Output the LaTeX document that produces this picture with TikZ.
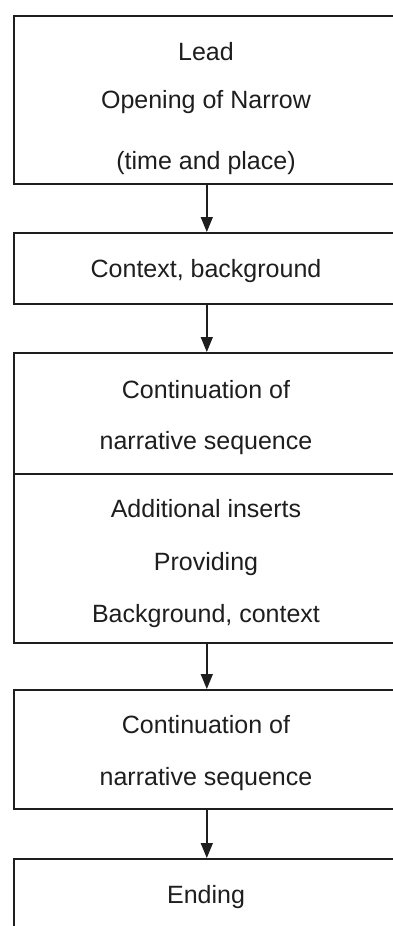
\documentclass[tikz,border=0pt]{standalone}
\usepackage{fontspec}
\setmainfont{Liberation Sans}
\usetikzlibrary{arrows.meta}
\definecolor{ink}{HTML}{1E1E1E}

\tikzset{
    stagebox/.style={draw=ink, line width=1.6pt, minimum width=386pt,
        anchor=north west, inner sep=0pt},
    line/.style={font=\fontsize{25}{30}\selectfont, text=ink, anchor=base, inner sep=0pt},
    flow/.style={draw=ink, line width=1.5pt, -{Triangle[width=12pt,length=15pt]}}
}

\begin{document}
\begin{tikzpicture}[x=1pt, y=-1pt]
        \useasboundingbox[fill=white] (0, 0) rectangle (393, 926);
        \clip (0, 0) rectangle (393, 926);

        % boxes
        \node[stagebox, minimum height=168pt] (lead) at (13, 15) {};
        \node[stagebox, minimum height=71pt] (ctx) at (13, 232) {};
        \node[stagebox, minimum height=121pt] (cont) at (13, 352) {};
        \node[stagebox, minimum height=169pt] (ins) at (13, 473) {};
        \node[stagebox, minimum height=119pt] (cont2) at (13, 689) {};
        \node[stagebox, minimum height=110pt] (ending) at (13, 858) {};

        % texts
        \node[line] (lead1) at (206, 60) {Lead};
        \node[line] (lead2) at (206, 108) {Opening of Narrow};
        \node[line] (lead3) at (206, 169) {(time and place)};
        \node[line] (ctx1) at (206, 277) {Context, background};
        \node[line] (cont1) at (206, 398) {Continuation of};
        \node[line] (cont2a) at (206, 449) {narrative sequence};
        \node[line] (ins1) at (206, 517) {Additional inserts};
        \node[line] (ins2) at (206, 570) {Providing};
        \node[line] (ins3) at (206, 622) {Background, context};
        \node[line] (cont3) at (206, 733) {Continuation of};
        \node[line] (cont4) at (206, 785) {narrative sequence};
        \node[line] (end1) at (206, 903) {Ending};

        \draw[flow] (lead.south) -- (ctx.north);
        \draw[flow] (ctx.south) -- (cont.north);
        \draw[flow] (ins.south) -- (cont2.north);
        \draw[flow] (cont2.south) -- (ending.north);
    \end{tikzpicture}
\end{document}
